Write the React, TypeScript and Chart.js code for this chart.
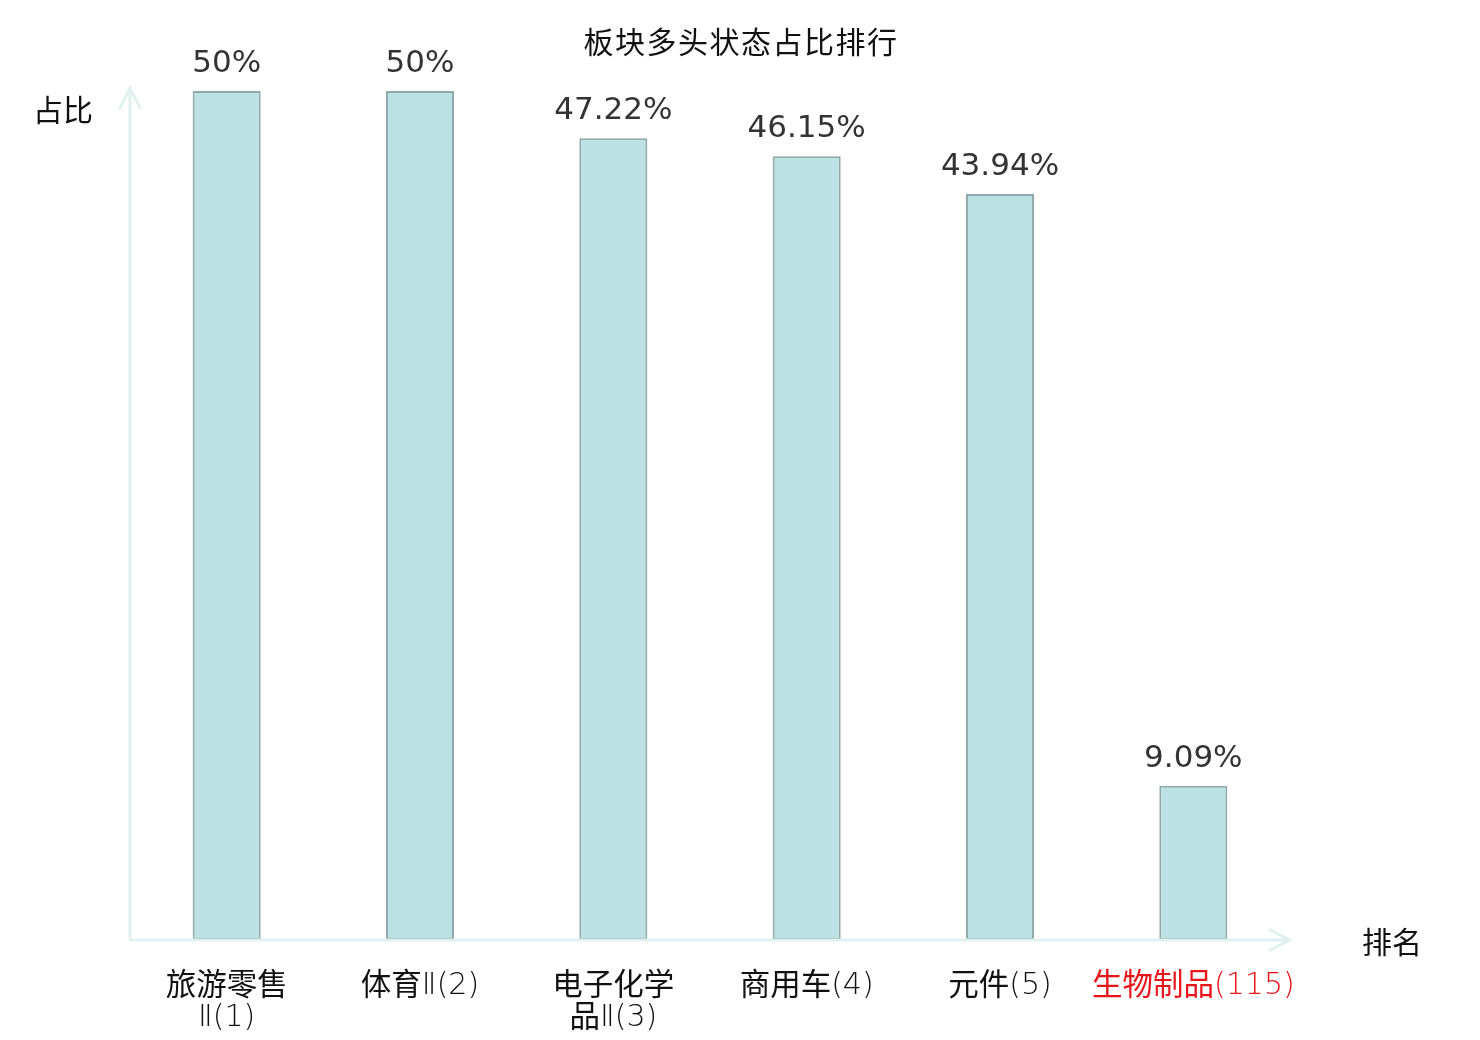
import React, { useEffect, useRef } from "react";
import { Chart, registerables } from "chart.js";

Chart.register(...registerables);

const TITLE = "板块多头状态占比排行";
const Y_NAME = "占比";
const X_NAME = "排名";
const categoryLines: string[][] = [
  ["旅游零售", "Ⅱ(1)"],
  ["体育Ⅱ(2)"],
  ["电子化学", "品Ⅱ(3)"],
  ["商用车(4)"],
  ["元件(5)"],
  ["生物制品(115)"],
];
const categoryColors = ["#111111", "#111111", "#111111", "#111111", "#111111", "#e8141a"];
const values = [50, 50, 47.22, 46.15, 43.94, 9.09];
const valueLabels = ["50%", "50%", "47.22%", "46.15%", "43.94%", "9.09%"];

const AXIS_COLOR = "#dff2f0";
const CJK_FONT = '"Noto Sans CJK SC", "Noto Sans", sans-serif';
const LATIN_FONT = '"DejaVu Sans", sans-serif';

function isCJK(ch: string) {
  return /[\u4e00-\u9fff]/.test(ch);
}

function drawRichLine(ctx: CanvasRenderingContext2D, text: string, cx: number, baseY: number, color: string) {
  const runs: { t: string; cjk: boolean }[] = [];
  for (const ch of text) {
    const c = isCJK(ch);
    if (runs.length && runs[runs.length - 1].cjk === c) runs[runs.length - 1].t += ch;
    else runs.push({ t: ch, cjk: c });
  }
  const fontFor = (c: boolean) => (c ? `400 30.5px ${CJK_FONT}` : `200 30px ${LATIN_FONT}`);
  let total = 0;
  const widths = runs.map((r) => {
    ctx.font = fontFor(r.cjk);
    const w = ctx.measureText(r.t).width;
    total += w;
    return w;
  });
  let x = cx - total / 2;
  ctx.textAlign = "left";
  ctx.textBaseline = "alphabetic";
  ctx.fillStyle = color;
  runs.forEach((r, i) => {
    ctx.font = fontFor(r.cjk);
    ctx.fillText(r.t, x, r.cjk ? baseY + 1 : baseY);
    x += widths[i];
  });
}

const decorPlugin = {
  id: "decor",
  afterDatasetsDraw(chart: any) {
    const ctx: CanvasRenderingContext2D = chart.ctx;
    const { left, right, top, bottom } = chart.chartArea;
    ctx.save();
    // axes
    ctx.strokeStyle = AXIS_COLOR;
    ctx.lineWidth = 3;
    ctx.lineCap = "round";
    ctx.beginPath();
    ctx.moveTo(left, bottom);
    ctx.lineTo(left, top - 3);
    ctx.moveTo(left - 10, top + 17);
    ctx.lineTo(left, top - 3);
    ctx.lineTo(left + 10, top + 17);
    ctx.moveTo(left, bottom);
    ctx.lineTo(right, bottom);
    ctx.moveTo(right - 20, bottom - 10);
    ctx.lineTo(right, bottom);
    ctx.lineTo(right - 20, bottom + 10);
    ctx.stroke();

    // value labels
    const meta = chart.getDatasetMeta(0);
    ctx.fillStyle = "#333333";
    ctx.font = '31px "DejaVu Sans", sans-serif';
    ctx.textAlign = "center";
    ctx.textBaseline = "alphabetic";
    meta.data.forEach((bar: any, i: number) => {
      ctx.fillText(valueLabels[i], bar.x, bar.y - 19);
    });

    // category labels
    const xs = chart.scales.x;
    categoryLines.forEach((lines, i) => {
      const cx = xs.getPixelForValue(i);
      lines.forEach((ln, j) => {
        drawRichLine(ctx, ln, cx, bottom + 54 + j * 32, categoryColors[i]);
      });
    });

    // title and axis names
    ctx.fillStyle = "#111111";
    ctx.textAlign = "center";
    ctx.textBaseline = "middle";
    ctx.font = `30px ${CJK_FONT}`;
    (ctx as any).letterSpacing = "1.5px";
    ctx.fillText(TITLE, chart.width / 2 + 1, 42);
    (ctx as any).letterSpacing = "0px";
    ctx.font = `30px ${CJK_FONT}`;
    ctx.fillText(Y_NAME, left - 67, top + 19);
    ctx.fillText(X_NAME, right + 102, bottom + 2);
    ctx.restore();
  },
};

export default function App() {
  const ref = useRef<HTMLCanvasElement | null>(null);
  useEffect(() => {
    if (!ref.current) return;
    const chart = new Chart(ref.current, {
      type: "bar",
      data: {
        labels: categoryLines.map((l) => l.join("")),
        datasets: [
          {
            data: values,
            backgroundColor: "#bce1e4",
            borderColor: "#8ea9aa",
            borderWidth: 2,
            borderSkipped: false,
            barPercentage: 0.352,
            categoryPercentage: 1,
          },
        ],
      },
      options: {
        responsive: false,
        animation: false,
        layout: { padding: { left: 130, right: 190, top: 91, bottom: 100 } },
        plugins: { legend: { display: false }, tooltip: { enabled: false }, title: { display: false } },
        scales: {
          x: { display: false, offset: true },
          y: { display: false, min: 0, max: 50 },
        },
      },
      plugins: [decorPlugin],
    });
    return () => chart.destroy();
  }, []);
  return (
    <div style={{ position: "absolute", left: 0, top: 0, width: 1480, height: 1040, background: "#ffffff" }}>
      <canvas ref={ref} width={1480} height={1040} style={{ width: 1480, height: 1040, display: "block" }} />
    </div>
  );
}
